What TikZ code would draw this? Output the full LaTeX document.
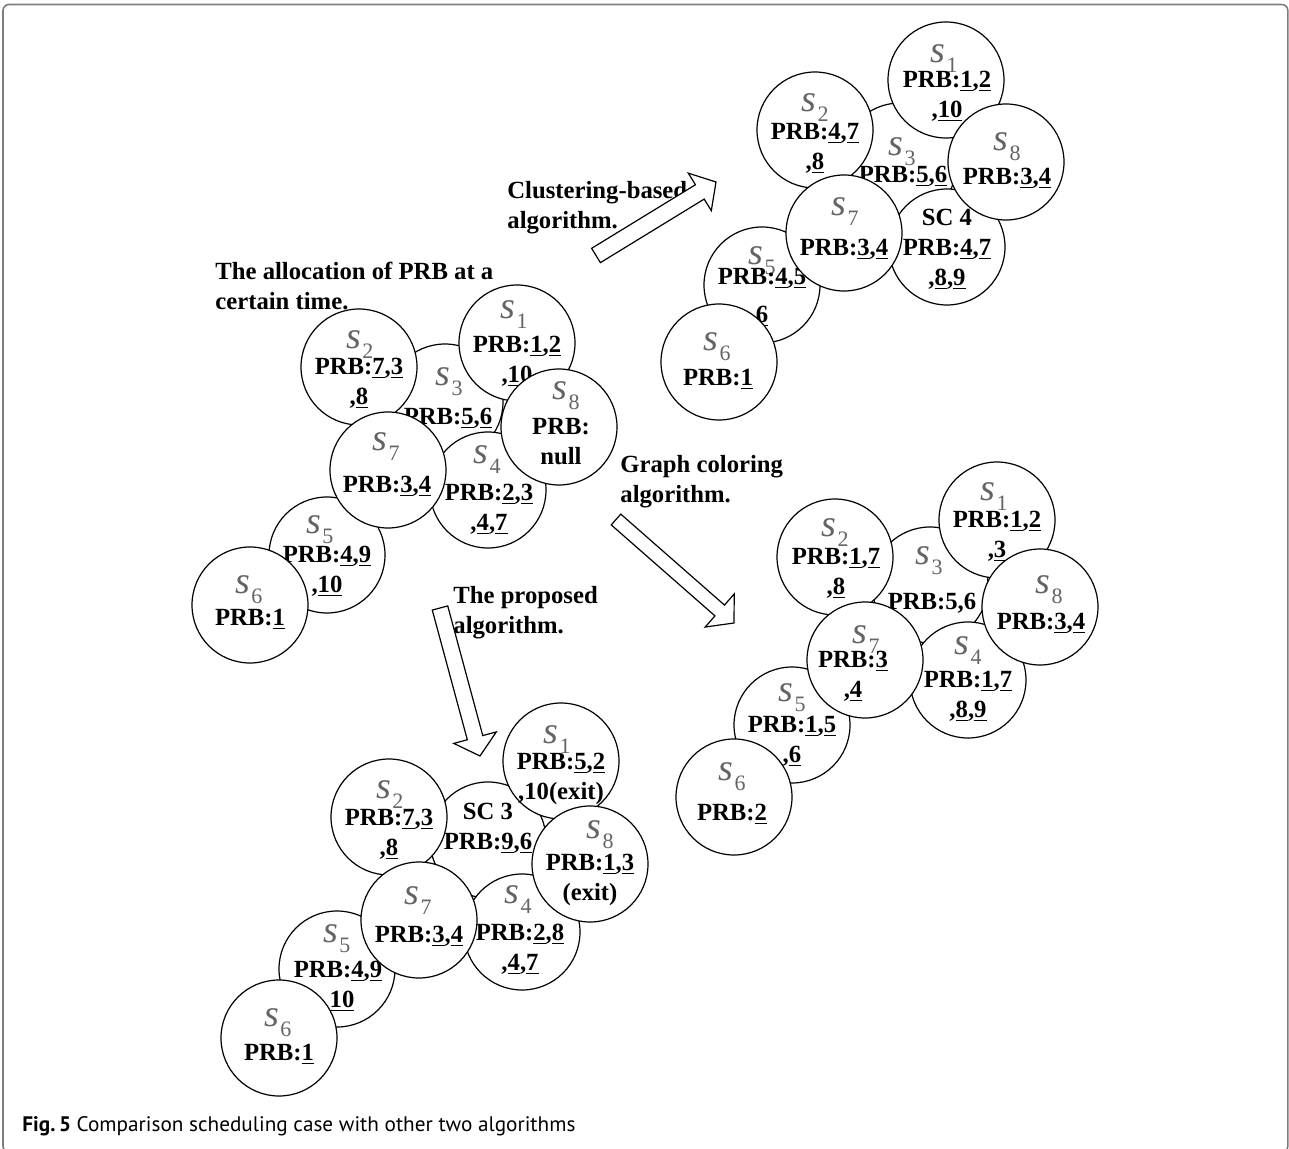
\documentclass[tikz,border=0pt]{standalone}
\usepackage{fontspec}
\usepackage{graphicx}
\setmainfont{Liberation Serif}
\newfontfamily\capfont{PT Sans}
\usetikzlibrary{calc}

\definecolor{labgray}{RGB}{100,100,100}
\definecolor{framegray}{RGB}{125,125,125}

% underlined PRB index
\newcommand{\un}[1]{\underline{#1}}
% station identifier: italic s with an upright index below
\newcommand{\slab}[1]{{\fontsize{19}{19}\selectfont\itshape s}\kern0.6pt\raisebox{-5pt}{\fontsize{11}{11}\selectfont #1}}

% hollow block arrow from tail #2 to tip #3, half shaft width #4
\newcommand{\blockarrow}[4]{%
  \coordinate (#1-tail) at (#2);
  \coordinate (#1-tip) at (#3);
  \coordinate (#1-base) at ($(#1-tip)!9.5pt!(#1-tail)$);
  \draw[hollowarrow]
    ($(#1-tail)!#4!90:(#1-tip)$) --
    ($(#1-base)!#4!90:(#1-tip)$) --
    ($(#1-base)!11pt!90:(#1-tip)$) --
    (#1-tip) --
    ($(#1-base)!11pt!-90:(#1-tip)$) --
    ($(#1-base)!#4!-90:(#1-tip)$) --
    ($(#1-tail)!#4!-90:(#1-tip)$) -- cycle;
}

\tikzset{
  cell/.style={circle, draw, fill=white, line width=0.6pt, minimum size=58pt, inner sep=0pt},
  idtext/.style={text=labgray, inner sep=0pt},
  body/.style={anchor=north, align=center, inner sep=0pt,
    font=\bfseries\fontsize{12.35}{15}\selectfont},
  heading/.style={anchor=north west, align=left, inner sep=0pt,
    font=\bfseries\fontsize{12.35}{15}\selectfont},
  hollowarrow/.style={draw, fill=white, line width=0.6pt, line join=miter},
}

\begin{document}
\begin{tikzpicture}[x=0.5pt, y=-0.5pt]
\useasboundingbox (0,0) rectangle (1289,1149);
\clip (0,0) rectangle (1289,1149);

% outer frame
\draw[framegray, line width=0.8pt, rounded corners=3pt] (3,4.5) rectangle (1287.8,1152);

% ---------- initial allocation ----------
\node[heading] (t-init) at (215,262) {The allocation of PRB at a\\certain time.};

\node[cell] (a3) at (445,402) {};
\node[idtext] (a3-id) at (449,382) {\slab{3}};
\node[body] (a3-txt) at (448,408) {PRB:\un5,\un6};

\node[cell] (a1) at (517,343) {};
\node[idtext] (a1-id) at (514,315) {\slab{1}};
\node[body] (a1-txt) at (517,336) {PRB:\un1,\un2\\,\un{10}};

\node[cell] (a2) at (359,367) {};
\node[idtext] (a2-id) at (360,345) {\slab{2}};
\node[body] (a2-txt) at (359,358) {PRB:\un7,\un3\\,\un8};

\node[cell] (a4) at (488,490) {};
\node[idtext] (a4-id) at (487,460) {\slab{4}};
\node[body] (a4-txt) at (489,484) {PRB:\un2,\un3\\,\un4,\un7};

\node[cell] (a8) at (559,427) {};
\node[idtext] (a8-id) at (566,396) {\slab{8}};
\node[body] (a8-txt) at (561,418) {PRB:\\null};

\node[cell] (a5) at (327,555) {};
\node[idtext] (a5-id) at (320,530) {\slab{5}};
\node[body] (a5-txt) at (327,546) {PRB:\un4,\un9\\,\un{10}};

\node[cell] (a7) at (388,470) {};
\node[idtext] (a7-id) at (386,447) {\slab{7}};
\node[body] (a7-txt) at (387,476) {PRB:\un3,\un4};

\node[cell] (a6) at (250,605) {};
\node[idtext] (a6-id) at (249,590) {\slab{6}};
\node[body] (a6-txt) at (250,609) {PRB:\un1};

% ---------- clustering-based ----------
\node[heading] (t-clu) at (507,181) {Clustering-based\\algorithm.};

\node[cell] (b3) at (900,161) {};
\node[idtext] (b3-id) at (902,152) {\slab{3}};
\node[body] (b3-txt) at (903,166) {PRB:\un5,\un6};

\node[cell] (b1) at (946,80) {};
\node[idtext] (b1-id) at (944,59) {\slab{1}};
\node[body] (b1-txt) at (947,71) {PRB:\un1,\un2\\,\un{10}};

\node[cell] (b2) at (815,130) {};
\node[idtext] (b2-id) at (815,108) {\slab{2}};
\node[body] (b2-txt) at (815,123) {PRB:\un4,\un7\\,\un8};

\node[cell] (b4) at (947,247) {};
\node[body] (b4-txt) at (947,209) {SC 4\\PRB:\un4,\un7\\,\un8,\un9};

\node[cell] (b8) at (1006,162) {};
\node[idtext] (b8-id) at (1007,147) {\slab{8}};
\node[body] (b8-txt) at (1007,168) {PRB:\un3,\un4};

\node[cell] (b5) at (762,285) {};
\node[idtext] (b5-id) at (762,261) {\slab{5}};
\node[body] (b5-txt) at (762,268) {PRB:\un4,\un5\\[4pt]\un6};

\node[cell] (b7) at (844,233) {};
\node[idtext] (b7-id) at (845,212) {\slab{7}};
\node[body] (b7-txt) at (844,239) {PRB:\un3,\un4};

\node[cell] (b6) at (719,362) {};
\node[idtext] (b6-id) at (717,347) {\slab{6}};
\node[body] (b6-txt) at (718,369) {PRB:\un1};

% ---------- graph colouring ----------
\node[heading] (t-gc) at (620,455) {Graph coloring\\algorithm.};

\node[cell] (c3) at (930,585) {};
\node[idtext] (c3-id) at (929,561) {\slab{3}};
\node[body] (c3-txt) at (932,593) {PRB:5,6};

\node[cell] (c1) at (997,520) {};
\node[idtext] (c1-id) at (994,497) {\slab{1}};
\node[body] (c1-txt) at (997,511) {PRB:\un1,\un2\\,\un3};

\node[cell] (c2) at (835,557) {};
\node[idtext] (c2-id) at (835,533) {\slab{2}};
\node[body] (c2-txt) at (836,548) {PRB:\un1,\un7\\,\un8};

\node[cell] (c4) at (968,680) {};
\node[idtext] (c4-id) at (968,651) {\slab{4}};
\node[body] (c4-txt) at (968,671) {PRB:\un1,\un7\\,\un8,\un9};

\node[cell] (c8) at (1040,607) {};
\node[idtext] (c8-id) at (1049,590) {\slab{8}};
\node[body] (c8-txt) at (1041,613) {PRB:\un3,\un4};

\node[cell] (c5) at (792,725) {};
\node[idtext] (c5-id) at (792,698) {\slab{5}};
\node[body] (c5-txt) at (792,716) {PRB:\un1,\un5\\,\un6};

\node[cell] (c7) at (865,660) {};
\node[idtext] (c7-id) at (866,640) {\slab{7}};
\node[body] (c7-txt) at (853,651) {PRB:\un3\\,\un4};

\node[cell] (c6) at (734,797) {};
\node[idtext] (c6-id) at (732,777) {\slab{6}};
\node[body] (c6-txt) at (732,804) {PRB:\un2};

% ---------- proposed ----------
\node[heading] (t-prop) at (453,586) {The proposed\\algorithm.};

\node[cell] (d3) at (488,840) {};
\node[body] (d3-txt) at (488,803) {SC 3\\PRB:\un9,\un6};

\node[cell] (d1) at (561,761) {};
\node[idtext] (d1-id) at (557,740) {\slab{1}};
\node[body] (d1-txt) at (561,753) {PRB:\un5,\un2\\,10(exit)};

\node[cell] (d2) at (389,817) {};
\node[idtext] (d2-id) at (390,795) {\slab{2}};
\node[body] (d2-txt) at (389,809) {PRB:\un7,\un3\\,\un8};

\node[cell] (d4) at (522,932) {};
\node[idtext] (d4-id) at (518,900) {\slab{4}};
\node[body] (d4-txt) at (520,924) {PRB:\un2,\un8\\,\un4,\un7};

\node[cell] (d8) at (590,864) {};
\node[idtext] (d8-id) at (600,835) {\slab{8}};
\node[body] (d8-txt) at (590,854) {PRB:\un1,\un3\\(exit)};

\node[cell] (d5) at (337,969) {};
\node[idtext] (d5-id) at (337,939) {\slab{5}};
\node[body] (d5-txt) at (338,961) {PRB:\un4,\un9\\\hspace*{4pt}\un{10}};

\node[cell] (d7) at (419,920) {};
\node[idtext] (d7-id) at (418,901) {\slab{7}};
\node[body] (d7-txt) at (419,926) {PRB:\un3,\un4};

\node[cell] (d6) at (279,1038) {};
\node[idtext] (d6-id) at (278,1023) {\slab{6}};
\node[body] (d6-txt) at (279,1044) {PRB:\un1};

% ---------- transition arrows ----------
\blockarrow{arr-clu}{596,255.5}{716,182}{4.2pt}
\blockarrow{arr-gc}{616,519.5}{734,623}{3.6pt}
\blockarrow{arr-prop}{440,608}{480,756}{4pt}

% caption
\node[anchor=base west, inner sep=0pt] (caption) at (22,1131)
  {\resizebox{276.5pt}{\height}{\capfont\fontsize{10.5}{12}\selectfont\textbf{Fig.\,5} Comparison scheduling case with other two algorithms}};
\end{tikzpicture}
\end{document}
